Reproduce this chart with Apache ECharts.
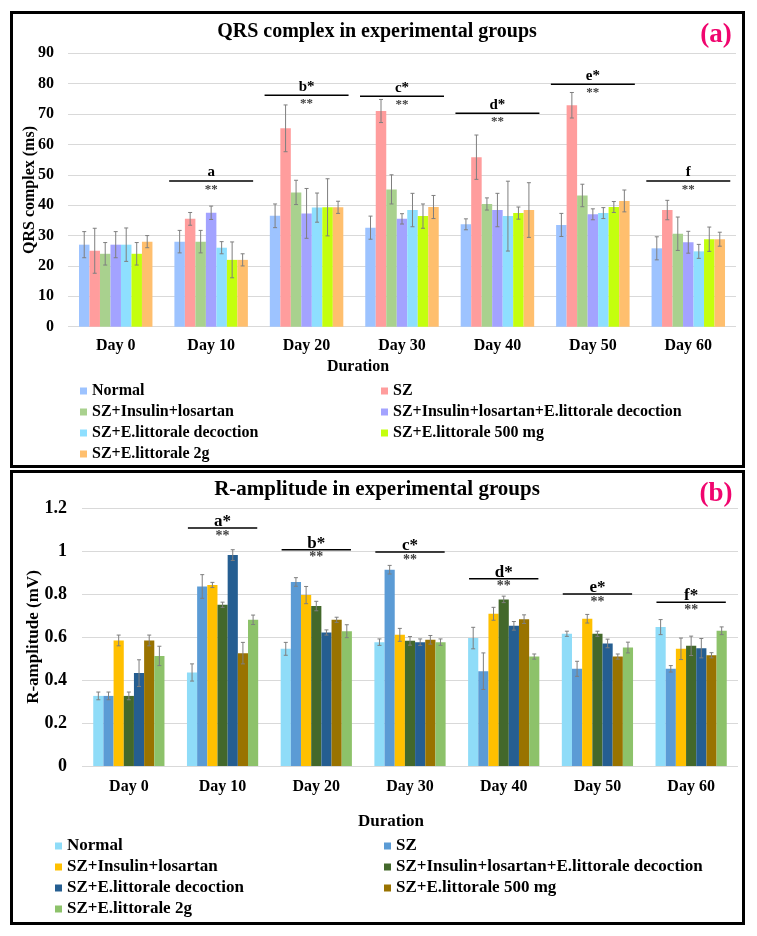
<!DOCTYPE html>
<html><head><meta charset="utf-8">
<script src="https://cdn.jsdelivr.net/npm/echarts@6/dist/echarts.min.js"></script>
<style>
html,body{margin:0;padding:0;background:#fff;}
#a,#b{position:absolute;left:0;width:757px;}
#a{top:0;height:469px;}
#b{top:469px;height:467px;}
</style>
</head><body>
<div id="a"></div><div id="b"></div>
<script>
// ---------- shared categories ----------
const days = ['Day 0', 'Day 10', 'Day 20', 'Day 30', 'Day 40', 'Day 50', 'Day 60'];
const groups = ['Normal', 'SZ', 'SZ+Insulin+losartan', 'SZ+Insulin+losartan+E.littorale decoction',
  'SZ+E.littorale decoction', 'SZ+E.littorale 500 mg', 'SZ+E.littorale 2g'];

// ---------- panel (a): QRS complex (ms) ----------
const qrsNormal   = [27, 28, 36.5, 32.6, 33.7, 33.5, 25.8];
const qrsSZ       = [25, 35.5, 65.3, 71, 55.8, 72.9, 38.4];
const qrsInsLos   = [24, 28, 44.2, 45.2, 40.4, 43.2, 30.6];
const qrsInsLosEL = [27, 37.5, 37.3, 35.5, 38.4, 37, 27.8];
const qrsDecoct   = [27, 26, 39.2, 38.4, 36.4, 37.4, 24.8];
const qrs500      = [24, 22, 39.3, 36.4, 37.4, 39.4, 28.8];
const qrs2g       = [28, 22, 39.3, 39.4, 38.4, 41.4, 28.8];

const qrsErrNormal   = [4.3, 3.7, 3.9, 3.8, 1.8, 3.8, 3.8];
const qrsErrSZ       = [7.4, 2.1, 7.7, 3.8, 7.3, 4.2, 3.2];
const qrsErrInsLos   = [3.7, 3.7, 4, 4.8, 2, 3.7, 5.5];
const qrsErrInsLosEL = [4.3, 2.2, 8.2, 1.7, 5.5, 1.8, 3.6];
const qrsErrDecoct   = [5.5, 2, 4.8, 5.5, 11.5, 1.8, 2.3];
const qrsErr500      = [3.7, 5.9, 9.4, 4, 2, 1.8, 4];
const qrsErr2g       = [2, 2, 2, 3.8, 9, 3.6, 2.3];

const qrsMarkDays   = [1, 2, 3, 4, 5, 6];
const qrsMarkValues = [48, 76.2, 75.9, 70.3, 79.8, 48];
const qrsMarkLabels = ['a', 'b*', 'c*', 'd*', 'e*', 'f'];

// ---------- panel (b): R-amplitude (mV) ----------
const ampNormal   = [0.326, 0.435, 0.545, 0.576, 0.595, 0.615, 0.646];
const ampSZ       = [0.326, 0.835, 0.856, 0.913, 0.441, 0.452, 0.452];
const ampInsLos   = [0.584, 0.842, 0.795, 0.61, 0.708, 0.685, 0.545];
const ampInsLosEL = [0.326, 0.75, 0.744, 0.582, 0.775, 0.615, 0.559];
const ampDecoct   = [0.432, 0.981, 0.621, 0.576, 0.652, 0.57, 0.548];
const amp500      = [0.584, 0.525, 0.68, 0.587, 0.683, 0.509, 0.515];
const amp2g       = [0.512, 0.68, 0.627, 0.576, 0.509, 0.551, 0.629];

const ampErrNormal   = [0.018, 0.04, 0.03, 0.015, 0.05, 0.012, 0.035];
const ampErrSZ       = [0.018, 0.055, 0.02, 0.02, 0.085, 0.035, 0.015];
const ampErrInsLos   = [0.025, 0.012, 0.04, 0.03, 0.03, 0.02, 0.05];
const ampErrInsLosEL = [0.018, 0.012, 0.022, 0.02, 0.015, 0.012, 0.045];
const ampErrDecoct   = [0.062, 0.025, 0.012, 0.015, 0.02, 0.02, 0.045];
const ampErr500      = [0.025, 0.05, 0.012, 0.02, 0.02, 0.012, 0.012];
const ampErr2g       = [0.045, 0.022, 0.03, 0.015, 0.012, 0.025, 0.018];

const ampMarkDays   = [1, 2, 3, 4, 5, 6];
const ampMarkValues = [1.107, 1.006, 0.995, 0.871, 0.80, 0.762];
const ampMarkLabels = ['a*', 'b*', 'c*', 'd*', 'e*', 'f*'];

const FONT = "'Times New Roman','Liberation Serif',serif";

function build(cfg) {
  const means = cfg.means, errs = cfg.errs, gap = cfg.gap;
  const series = groups.map((g, i) => ({
    type: 'bar', name: g, data: means[i],
    itemStyle: { color: cfg.colors[i] },
    barGap: '0%', barCategoryGap: (gap * 100) + '%',
    emphasis: { disabled: true }, z: 2
  }));
  const errData = [];
  for (let s = 0; s < groups.length; s++)
    for (let d = 0; d < days.length; d++)
      errData.push([d, s, means[s][d], errs[s][d]]);
  series.push({
    type: 'custom', name: 'err', z: 5, silent: true,
    encode: { x: 0, y: 2 },
    data: errData,
    renderItem: function (params, api) {
      const d = api.value(0), s = api.value(1), m = api.value(2), e = api.value(3);
      const band = api.size([1, 0])[0];
      const bw = band * (1 - gap) / groups.length;
      const cx = api.coord([d, m])[0] + (s - (groups.length - 1) / 2) * bw;
      const yt = api.coord([d, m + e])[1], yb = api.coord([d, m - e])[1];
      const st = { stroke: '#7f7f7f', lineWidth: 1 };
      return { type: 'group', children: [
        { type: 'line', shape: { x1: cx, y1: yt, x2: cx, y2: yb }, style: st },
        { type: 'line', shape: { x1: cx - 2, y1: yt, x2: cx + 2, y2: yt }, style: st },
        { type: 'line', shape: { x1: cx - 2, y1: yb, x2: cx + 2, y2: yb }, style: st }
      ]};
    }
  });
  const markData = cfg.markDays.map((d, i) => [d, cfg.markValues[i], i]);
  series.push({
    type: 'custom', name: 'marks', z: 6, silent: true,
    encode: { x: 0, y: 1 },
    data: markData,
    renderItem: function (params, api) {
      const d = api.value(0), v = api.value(1), idx = api.value(2);
      const band = api.size([1, 0])[0];
      const p = api.coord([d, v]);
      const hw = band * cfg.markHalf;
      return { type: 'group', children: [
        { type: 'line', shape: { x1: p[0] - hw, y1: p[1], x2: p[0] + hw, y2: p[1] },
          style: { stroke: '#000', lineWidth: 1.5 } },
        { type: 'text', x: p[0], y: p[1] + cfg.labelDy,
          style: { text: cfg.markLabels[idx], fill: '#000', font: 'bold ' + cfg.markFont + 'px ' + FONT,
                   textAlign: 'center', textVerticalAlign: 'bottom' } },
        { type: 'text', x: p[0], y: p[1] + cfg.starDy,
          style: { text: '**', fill: '#404040', font: 'bold ' + cfg.starFont + 'px ' + FONT,
                   textAlign: 'center', textVerticalAlign: 'top' } }
      ]};
    }
  });
  const legendText = { fontFamily: FONT, fontWeight: 'bold', fontSize: cfg.legendFont, color: '#000', lineHeight: 21 };
  const legendBase = { orient: 'vertical', icon: 'rect', itemWidth: 7, itemHeight: 7, itemGap: 0,
    padding: 0, textStyle: legendText, selectedMode: false };
  return {
    animation: false,
    grid: cfg.grid,
    xAxis: { type: 'category', data: days,
      axisLine: { show: false }, axisTick: { show: false },
      axisLabel: { fontFamily: FONT, fontWeight: 'bold', fontSize: 16, color: '#000', margin: cfg.xMargin } },
    yAxis: { type: 'value', min: 0, max: cfg.yMax, interval: cfg.yInt,
      axisLine: { show: false }, axisTick: { show: false },
      splitLine: { lineStyle: { color: '#d9d9d9', width: 1 } },
      axisLabel: { fontFamily: FONT, fontWeight: 'bold', fontSize: cfg.yFont, color: '#000', margin: cfg.yMargin } },
    legend: [
      Object.assign({}, legendBase, { data: [groups[0], groups[2], groups[4], groups[6]], left: cfg.leg1x, top: cfg.legTop }),
      Object.assign({}, legendBase, { data: [groups[1], groups[3], groups[5]], left: cfg.leg2x, top: cfg.legTop })
    ],
    graphic: [
      { type: 'rect', shape: cfg.border, style: { fill: 'none', stroke: '#000', lineWidth: 3 }, silent: true },
      { type: 'text', x: 377, y: cfg.titleY, style: { text: cfg.title, font: 'bold ' + cfg.titleFont + 'px ' + FONT,
        fill: '#000', textAlign: 'center', textVerticalAlign: 'middle' } },
      { type: 'text', x: 716, y: cfg.tagY, style: { text: cfg.tag, font: 'bold 27px ' + FONT,
        fill: '#f0056e', textAlign: 'center', textVerticalAlign: 'middle' } },
      { type: 'text', x: cfg.yNameX, y: cfg.yNameY, rotation: Math.PI / 2,
        style: { text: cfg.yName, font: 'bold ' + cfg.yNameFont + 'px ' + FONT, fill: '#000',
                 textAlign: 'center', textVerticalAlign: 'middle' } },
      { type: 'text', x: cfg.durX, y: cfg.durY, style: { text: 'Duration', font: 'bold ' + cfg.durFont + 'px ' + FONT,
        fill: '#000', textAlign: 'center', textVerticalAlign: 'middle' } }
    ],
    series: series
  };
}

const chartA = echarts.init(document.getElementById('a'));
chartA.setOption(build({
  means: [qrsNormal, qrsSZ, qrsInsLos, qrsInsLosEL, qrsDecoct, qrs500, qrs2g],
  errs: [qrsErrNormal, qrsErrSZ, qrsErrInsLos, qrsErrInsLosEL, qrsErrDecoct, qrsErr500, qrsErr2g],
  colors: ['#9dc3ff', '#ff9d9d', '#a9d18e', '#a3a3ff', '#8edfff', '#c4ff0e', '#ffbf6e'],
  gap: 0.23,
  markDays: qrsMarkDays, markValues: qrsMarkValues, markLabels: qrsMarkLabels,
  markHalf: 0.44, markFont: 15, starFont: 13, labelDy: -1, starDy: 2,
  grid: { left: 68, right: 21, top: 53.3, bottom: 469 - 326.7 },
  yMax: 90, yInt: 10, yFont: 16, yMargin: 14, xMargin: 11,
  legendFont: 16, leg1x: 80, leg2x: 381, legTop: 380.5,
  border: { x: 11.5, y: 12.5, width: 732, height: 454 },
  title: 'QRS complex in experimental groups', titleFont: 20, titleY: 32,
  tag: '(a)', tagY: 35,
  yName: 'QRS complex (ms)', yNameFont: 16, yNameX: 30, yNameY: 190,
  durX: 358, durY: 367, durFont: 16
}));

const chartB = echarts.init(document.getElementById('b'));
chartB.setOption(build({
  means: [ampNormal, ampSZ, ampInsLos, ampInsLosEL, ampDecoct, amp500, amp2g],
  errs: [ampErrNormal, ampErrSZ, ampErrInsLos, ampErrInsLosEL, ampErrDecoct, ampErr500, ampErr2g],
  colors: ['#8fdcf8', '#5b9bd5', '#ffc000', '#43682b', '#255e91', '#997300', '#8dc26a'],
  gap: 0.24,
  markDays: ampMarkDays, markValues: ampMarkValues, markLabels: ampMarkLabels,
  markHalf: 0.37, markFont: 17, starFont: 14, labelDy: 2, starDy: 1,
  grid: { left: 82, right: 19, top: 39, bottom: 170 },
  yMax: 1.2, yInt: 0.2, yFont: 18, yMargin: 15, xMargin: 13,
  legendFont: 17, leg1x: 55, leg2x: 384, legTop: 366.5,
  border: { x: 11.5, y: 2.5, width: 732, height: 452 },
  title: 'R-amplitude in experimental groups', titleFont: 21, titleY: 21,
  tag: '(b)', tagY: 25,
  yName: 'R-amplitude (mV)', yNameFont: 17, yNameX: 34, yNameY: 168,
  durX: 391, durY: 353, durFont: 17
}));
</script>
</body></html>
